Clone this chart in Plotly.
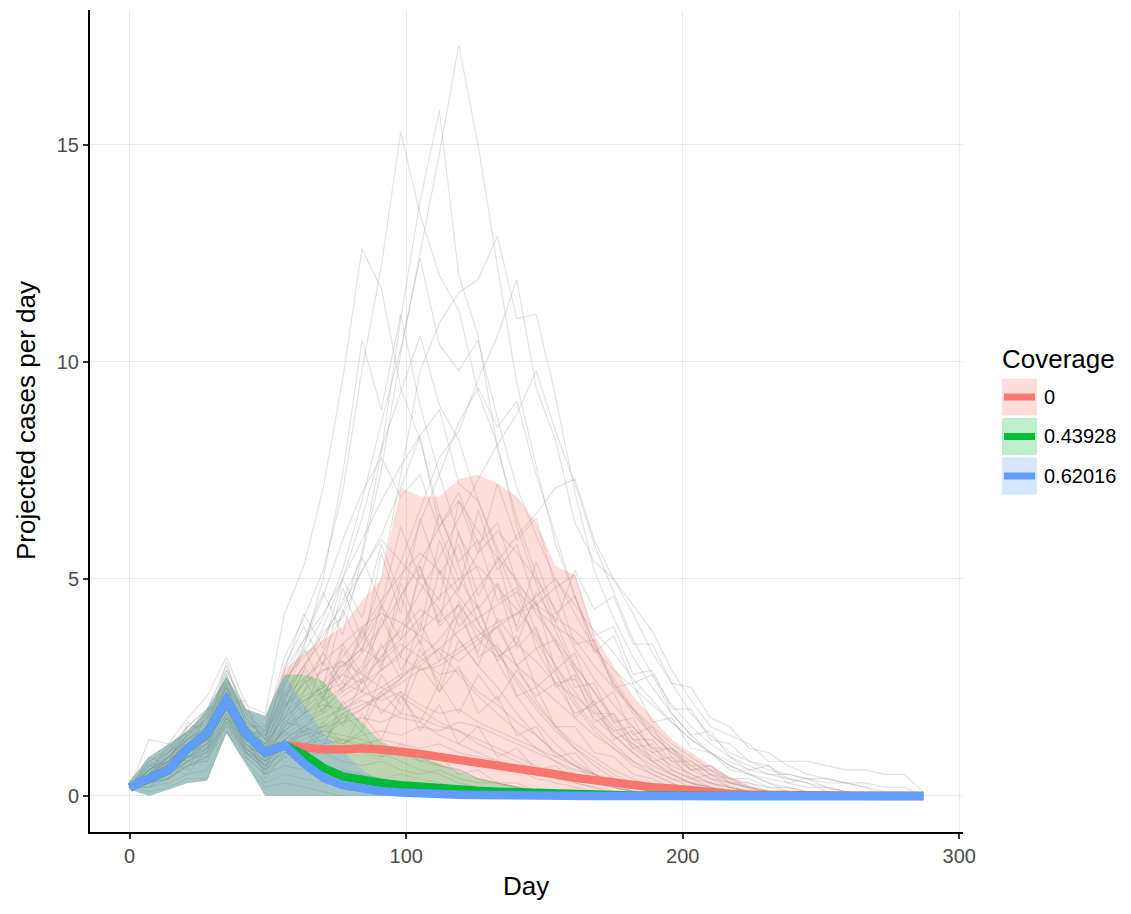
import plotly.graph_objects as go

# ---------------- data ----------------
DAYS = [0, 7, 14, 21, 28, 35, 42, 49, 56, 63, 70, 77, 84, 91, 98, 105, 112, 119, 126, 133,
        140, 147, 154, 161, 168, 175, 182, 189, 196, 203, 210, 217, 224, 231, 238, 245,
        252, 259, 266, 273, 280, 287]

COVERAGE = ["0", "0.43928", "0.62016"]

# median projected cases per day for each coverage
MED_0 = [0.2, 0.4, 0.6, 1.1, 1.45, 2.2, 1.45, 1.0, 1.17,
         1.12, 1.07, 1.07, 1.1, 1.07, 1.03, 0.97, 0.9, 0.84, 0.78, 0.72, 0.65, 0.57, 0.5,
         0.42, 0.36, 0.3, 0.25, 0.2, 0.17, 0.12, 0.08, 0.05, 0.03, 0.02, 0.01,
         0, 0, 0, 0, 0, 0, 0]
MED_1 = [0.2, 0.4, 0.6, 1.1, 1.45, 2.2, 1.45, 1.0, 1.17,
         0.95, 0.65, 0.45, 0.36, 0.3, 0.25, 0.21, 0.17, 0.14, 0.12, 0.1, 0.08, 0.06, 0.05,
         0.04, 0.03, 0.02, 0.01,
         0, 0, 0, 0, 0, 0, 0, 0, 0, 0, 0, 0, 0, 0, 0]
MED_2 = [0.2, 0.4, 0.6, 1.1, 1.45, 2.2, 1.45, 1.0, 1.17,
         0.75, 0.42, 0.25, 0.16, 0.11, 0.08, 0.05, 0.04, 0.03, 0.02, 0.01,
         0, 0, 0, 0, 0, 0, 0, 0, 0, 0, 0, 0, 0, 0, 0, 0, 0, 0, 0, 0, 0, 0]

# ribbon bounds
RIB_LOWER = [0.15, 0.0, 0.15, 0.3, 0.35, 1.45, 0.75, 0.0, 0.0,
             0, 0, 0, 0, 0, 0, 0, 0, 0, 0, 0, 0, 0, 0, 0, 0, 0, 0, 0, 0, 0, 0, 0, 0,
             0, 0, 0, 0, 0, 0, 0, 0, 0]
UPPER_0 = [0.35, 0.9, 1.2, 1.5, 2.0, 2.75, 2.0, 1.85, 2.9,
           3.3, 3.6, 3.9, 4.5, 5.0, 7.1, 6.9, 6.9, 7.3, 7.4, 7.2, 6.9, 6.3, 5.3, 5.1, 3.7,
           3.0, 2.3, 1.8, 1.3, 1.0, 0.7, 0.45, 0.25, 0.1, 0.05, 0.02,
           0, 0, 0, 0, 0, 0]
UPPER_1 = [0.35, 0.9, 1.2, 1.5, 2.0, 2.75, 2.0, 1.85, 2.8,
           2.8, 2.65, 2.1, 1.7, 1.25, 1.05, 0.9, 0.75, 0.55, 0.4, 0.3, 0.22, 0.15, 0.1,
           0.07, 0.05, 0.03, 0.02,
           0, 0, 0, 0, 0, 0, 0, 0, 0, 0, 0, 0, 0, 0, 0]
UPPER_2 = [0.35, 0.9, 1.2, 1.5, 2.0, 2.75, 2.0, 1.85, 2.8,
           2.1, 1.45, 1.05, 0.6, 0.35, 0.22, 0.15, 0.1, 0.07, 0.05, 0.03, 0.02, 0.01,
           0, 0, 0, 0, 0, 0, 0, 0, 0, 0, 0, 0, 0, 0, 0, 0, 0, 0, 0, 0]

# individual simulated trajectories (weekly values from day 0)
H1 = [0.2, 0.6, 0.9, 1.4, 1.8, 2.6, 1.7, 1.5, 2.4, 3.0, 3.6, 4.5, 5.5, 7.5, 10.2, 12.5, 14.8, 17.3, 15.0, 12.2, 9.5, 7.6, 5.8, 4.6, 3.5, 2.6, 1.9, 1.4, 1.0, 0.6, 0.4, 0.2, 0.1, 0]
H2 = [0.2, 0.4, 1.0, 1.6, 2.0, 2.9, 2.0, 1.6, 3.2, 4.1, 5.2, 7.0, 9.8, 12.2, 15.3, 13.4, 12.0, 11.2, 9.3, 8.1, 6.2, 4.9, 3.8, 2.9, 2.0, 1.4, 1.0, 0.6, 0.4, 0.2, 0.1, 0]
H3 = [0.2, 0.7, 0.6, 1.3, 1.5, 2.3, 1.4, 1.1, 2.0, 2.6, 3.3, 4.2, 5.6, 7.9, 11.0, 13.7, 15.8, 12.0, 10.6, 8.0, 6.4, 5.1, 4.0, 3.0, 2.4, 1.7, 1.2, 0.8, 0.5, 0.3, 0.2, 0.1, 0]
H4 = [0.2, 1.3, 1.2, 1.8, 2.3, 3.2, 2.1, 1.9, 4.2, 5.3, 7.1, 9.6, 12.6, 11.7, 9.4, 8.2, 6.5, 5.3, 4.0, 3.1, 2.3, 1.7, 1.2, 0.8, 0.5, 0.3, 0.2, 0.1, 0]
H5 = [0.2, 0.5, 0.7, 1.1, 1.4, 2.2, 1.3, 1.0, 1.6, 2.0, 2.4, 2.9, 3.6, 5.0, 7.4, 9.8, 10.9, 11.6, 11.9, 12.9, 11.0, 11.1, 9.2, 7.0, 5.2, 4.1, 3.2, 2.5, 1.9, 1.4, 1.0, 0.7, 0.5, 0.3, 0.2, 0.1, 0]
H6 = [0.2, 0.3, 0.6, 1.0, 1.3, 2.0, 1.2, 0.9, 2.2, 3.4, 5.0, 7.4, 10.5, 8.9, 11.1, 9.0, 7.4, 6.0, 5.2, 4.0, 3.0, 2.2, 1.6, 1.1, 0.8, 0.5, 0.3, 0.1, 0]
H7 = [0.2, 0.6, 1.1, 1.5, 1.9, 2.7, 1.8, 1.3, 2.6, 3.3, 4.1, 5.2, 6.8, 8.6, 10.3, 12.4, 10.4, 9.8, 10.5, 8.7, 7.1, 6.0, 5.0, 4.2, 3.4, 2.6, 2.0, 1.4, 1.0, 0.7, 0.4, 0.3, 0.2, 0.1, 0]
H8 = [0.2, 0.4, 0.8, 1.2, 1.5, 2.4, 1.6, 1.2, 1.8, 2.2, 2.5, 3.0, 3.4, 4.3, 5.4, 6.6, 7.8, 8.4, 9.6, 10.6, 11.9, 9.4, 8.2, 6.3, 5.4, 5.0, 4.4, 3.8, 2.9, 2.2, 1.6, 1.4, 1.2, 0.8, 0.8, 0.8, 0.7, 0.6, 0.6, 0.5, 0.5, 0.1]
H9 = [0.2, 0.5, 0.8, 1.3, 1.6, 2.5, 1.5, 1.2, 2.3, 3.0, 3.9, 5.0, 6.4, 8.0, 9.3, 10.6, 9.0, 8.2, 6.8, 5.6, 4.5, 3.6, 2.8, 2.1, 1.5, 1.1, 0.7, 0.5, 0.3, 0.1, 0]
M1 = [0.2, 0.3, 0.5, 0.8, 1.1, 1.9, 1.1, 0.7, 1.3, 1.6, 2.0, 2.5, 3.0, 3.9, 5.0, 6.3, 7.4, 8.6, 9.4, 8.5, 9.1, 7.4, 6.0, 4.6, 3.5, 2.7, 2.0, 1.5, 1.1, 0.8, 0.5, 0.3, 0.2, 0.1, 0]
M2 = [0.2, 0.8, 1.0, 1.5, 1.7, 2.5, 1.5, 1.4, 2.9, 3.6, 4.2, 5.0, 5.9, 6.8, 7.6, 8.3, 8.9, 7.2, 6.8, 5.7, 4.9, 3.8, 3.0, 2.2, 1.6, 1.2, 0.8, 0.5, 0.3, 0.1, 0]
M3 = [0.2, 0.5, 0.9, 1.3, 1.7, 2.6, 1.6, 1.3, 2.5, 3.5, 4.6, 5.9, 7.0, 7.8, 6.9, 7.4, 6.1, 5.0, 4.3, 3.3, 2.6, 2.0, 1.5, 1.1, 0.7, 0.4, 0.2, 0.1, 0]
M4 = [0.2, 0.4, 0.6, 0.9, 1.2, 2.1, 1.2, 0.9, 1.4, 1.7, 1.9, 2.3, 2.6, 3.2, 3.9, 4.7, 5.5, 6.4, 7.3, 8.1, 8.8, 9.8, 8.4, 7.2, 5.8, 4.7, 3.6, 2.8, 2.1, 1.6, 1.2, 0.9, 0.7, 0.5, 0.4, 0.3, 0.2, 0.1, 0]
M5 = [0.2, 0.6, 0.8, 1.2, 1.4, 2.2, 1.4, 1.1, 2.0, 2.9, 3.8, 4.1, 5.2, 6.0, 7.1, 8.3, 6.2, 7.0, 5.8, 6.3, 4.9, 4.4, 3.5, 2.9, 2.1, 1.6, 1.1, 0.8, 0.5, 0.3, 0.1, 0]
M6 = [0.2, 0.3, 0.4, 0.7, 0.9, 1.7, 1.0, 0.6, 1.1, 1.3, 1.5, 1.8, 2.0, 2.3, 2.7, 3.2, 3.6, 4.2, 4.8, 5.4, 6.0, 6.5, 7.1, 7.3, 5.9, 5.0, 4.2, 3.3, 2.6, 1.9, 1.4, 1.0, 0.8, 0.6, 0.5, 0.4, 0.3, 0.3, 0.2, 0.1, 0]
D1 = [0.2, 0.4, 0.7, 1.1, 1.5, 2.3, 1.4, 1.0, 1.7, 2.1, 2.6, 3.2, 3.8, 4.5, 5.1, 5.6, 5.2, 4.6, 4.0, 3.3, 2.7, 2.1, 1.6, 1.2, 0.9, 0.6, 0.4, 0.2, 0.1, 0]
D2 = [0.2, 0.5, 0.6, 1.0, 1.3, 2.1, 1.3, 1.0, 1.5, 1.8, 2.0, 2.4, 2.7, 3.2, 3.6, 4.1, 4.6, 5.0, 5.3, 4.8, 4.3, 3.7, 3.0, 2.4, 1.8, 1.4, 1.0, 0.7, 0.5, 0.3, 0.2, 0.1, 0]
D3 = [0.2, 0.7, 1.0, 1.4, 1.9, 2.8, 1.7, 1.4, 2.3, 2.7, 3.1, 3.5, 3.9, 4.2, 4.0, 3.7, 3.3, 2.8, 2.3, 1.9, 1.5, 1.1, 0.8, 0.5, 0.3, 0.2, 0.1, 0]
D4 = [0.2, 0.2, 0.4, 0.7, 0.8, 1.6, 0.9, 0.5, 0.9, 1.2, 1.4, 1.7, 2.0, 2.4, 2.7, 3.1, 3.4, 3.8, 4.1, 4.4, 4.7, 4.3, 3.9, 3.6, 3.0, 2.5, 2.0, 1.6, 1.2, 0.9, 0.6, 0.4, 0.3, 0.2, 0.1, 0]
D5 = [0.2, 0.6, 0.9, 1.3, 1.6, 2.5, 1.6, 1.2, 2.1, 2.4, 2.9, 3.0, 3.4, 3.1, 3.5, 3.2, 2.8, 2.9, 2.4, 2.1, 1.7, 1.4, 1.0, 0.7, 0.5, 0.3, 0.1, 0]
D6 = [0.2, 0.4, 0.5, 0.9, 1.0, 1.8, 1.0, 0.8, 1.2, 1.5, 1.7, 2.1, 2.4, 2.9, 3.3, 3.8, 4.2, 4.8, 5.6, 6.1, 5.6, 5.0, 4.3, 3.4, 2.7, 2.1, 1.6, 1.1, 0.8, 0.5, 0.3, 0.1, 0]
D7 = [0.2, 0.5, 0.8, 1.2, 1.4, 2.3, 1.5, 1.1, 1.9, 2.3, 2.5, 2.8, 2.6, 2.9, 3.2, 2.9, 3.0, 3.3, 3.6, 3.2, 3.5, 3.1, 2.6, 2.3, 1.9, 1.5, 1.2, 0.9, 0.6, 0.4, 0.3, 0.2, 0.1, 0]
D8 = [0.2, 0.3, 0.6, 1.0, 1.2, 2.0, 1.2, 0.8, 1.3, 1.6, 1.8, 2.0, 2.3, 2.5, 2.8, 3.0, 3.4, 3.1, 3.5, 3.9, 4.2, 4.6, 5.0, 4.4, 3.8, 3.3, 2.7, 2.2, 1.7, 1.3, 1.0, 0.7, 0.5, 0.4, 0.3, 0.2, 0.2, 0.1, 0]
D9 = [0.2, 0.8, 1.1, 1.6, 2.0, 3.0, 1.9, 1.5, 2.7, 3.2, 3.7, 4.4, 5.2, 5.9, 5.4, 4.9, 4.3, 3.6, 3.0, 2.5, 1.9, 1.4, 1.0, 0.7, 0.4, 0.2, 0.1, 0]
D10 = [0.2, 0.4, 0.7, 1.0, 1.3, 2.2, 1.3, 0.9, 1.6, 1.9, 2.2, 2.5, 2.9, 3.4, 3.8, 4.3, 4.0, 4.4, 3.8, 3.4, 3.0, 2.6, 2.2, 1.8, 1.4, 1.1, 0.8, 0.6, 0.4, 0.3, 0.2, 0.1, 0]
D11 = [0.2, 0.5, 0.7, 1.1, 1.3, 2.1, 1.4, 1.0, 1.5, 1.9, 2.3, 2.8, 3.3, 3.9, 4.6, 5.4, 6.2, 6.8, 6.1, 5.5, 5.0, 4.2, 3.6, 3.0, 2.4, 1.8, 1.3, 1.0, 0.7, 0.5, 0.3, 0.2, 0.1, 0]
D12 = [0.2, 0.3, 0.5, 0.8, 1.0, 1.8, 1.1, 0.7, 1.2, 1.4, 1.6, 1.9, 2.1, 2.3, 2.6, 2.9, 3.1, 3.4, 3.7, 4.0, 4.2, 4.4, 4.1, 3.8, 3.4, 2.9, 2.5, 2.1, 1.7, 1.3, 1.0, 0.8, 0.6, 0.5, 0.5, 0.4, 0.4, 0.3, 0.3, 0.2, 0.2, 0]
L1 = [0.2, 0.4, 0.6, 1.0, 1.2, 2.0, 1.1, 0.8, 1.2, 1.1, 1.0, 1.1, 1.0, 0.9, 1.0, 0.8, 0.7, 0.6, 0.4, 0.3, 0.2, 0.1, 0]
L2 = [0.2, 0.3, 0.5, 0.9, 1.1, 1.9, 1.0, 0.6, 0.9, 0.8, 0.7, 0.5, 0.4, 0.3, 0.2, 0.1, 0]
L3 = [0.2, 0.5, 0.7, 1.1, 1.4, 2.2, 1.3, 0.9, 1.4, 1.5, 1.6, 1.7, 1.8, 1.7, 1.9, 1.8, 1.6, 1.5, 1.3, 1.1, 0.9, 0.7, 0.5, 0.4, 0.3, 0.2, 0.1, 0]
L4 = [0.2, 0.2, 0.3, 0.5, 0.6, 1.5, 0.8, 0.3, 0.5, 0.4, 0.3, 0.2, 0.1, 0]
L5 = [0.2, 0.6, 0.8, 1.2, 1.5, 2.4, 1.5, 1.1, 1.7, 1.6, 1.4, 1.3, 1.1, 1.0, 0.8, 0.6, 0.5, 0.3, 0.2, 0.1, 0]
L6 = [0.2, 0.4, 0.6, 0.9, 1.2, 2.0, 1.2, 0.8, 1.1, 1.2, 1.3, 1.2, 1.4, 1.5, 1.4, 1.6, 1.5, 1.7, 1.6, 1.4, 1.2, 1.0, 0.8, 0.6, 0.5, 0.3, 0.2, 0.1, 0]
L7 = [0.2, 0.3, 0.4, 0.7, 0.9, 1.7, 0.9, 0.5, 0.7, 0.6, 0.5, 0.6, 0.5, 0.4, 0.5, 0.4, 0.3, 0.2, 0.1, 0]
L8 = [0.2, 0.5, 0.8, 1.2, 1.5, 2.3, 1.4, 1.1, 1.5, 1.9, 2.1, 2.0, 2.2, 2.0, 1.8, 1.7, 1.4, 1.2, 1.0, 0.8, 0.6, 0.4, 0.3, 0.2, 0.1, 0]
L9 = [0.2, 0.4, 0.5, 0.8, 1.0, 1.8, 1.0, 0.7, 1.0, 0.9, 1.0, 0.8, 0.7, 0.8, 0.6, 0.5, 0.6, 0.4, 0.3, 0.3, 0.2, 0.1, 0]
L10 = [0.2, 0.6, 0.9, 1.3, 1.6, 2.5, 1.5, 1.2, 1.8, 2.2, 2.4, 2.6, 2.4, 2.2, 2.4, 2.1, 1.9, 2.0, 1.7, 1.5, 1.3, 1.1, 0.9, 0.7, 0.5, 0.4, 0.3, 0.2, 0.1, 0]
L11 = [0.2, 0.3, 0.6, 0.9, 1.1, 1.9, 1.1, 0.7, 1.0, 1.0, 1.2, 1.3, 1.2, 1.3, 1.2, 1.1, 1.2, 1.0, 0.9, 0.8, 0.7, 0.6, 0.5, 0.4, 0.3, 0.2, 0.1, 0]
L12 = [0.2, 0.1, 0.2, 0.4, 0.4, 1.5, 0.7, 0.2, 0.3, 0.2, 0.1, 0]
L13 = [0.2, 0.4, 0.7, 1.0, 1.3, 2.1, 1.3, 0.9, 1.3, 1.4, 1.5, 1.4, 1.3, 1.1, 1.0, 0.9, 0.7, 0.6, 0.4, 0.3, 0.2, 0.1, 0]
L14 = [0.2, 0.5, 0.9, 1.4, 1.8, 2.7, 1.8, 1.3, 2.1, 2.6, 2.9, 3.1, 2.8, 2.5, 2.3, 2.0, 1.7, 1.5, 1.2, 1.0, 0.8, 0.6, 0.4, 0.3, 0.2, 0.1, 0]
J1 = [0.2, 0.7, 0.5, 1.4, 1.2, 2.6, 1.3, 1.4, 2.4, 1.9, 3.1, 2.4, 3.8, 2.9, 4.6, 3.5, 5.2, 3.9, 4.4, 3.1, 3.7, 2.5, 2.9, 1.8, 2.2, 1.3, 1.5, 0.8, 0.9, 0.4, 0.5, 0.2, 0.1, 0]
J2 = [0.2, 0.3, 0.8, 0.6, 1.5, 1.8, 1.6, 0.6, 1.8, 2.7, 1.9, 3.4, 2.6, 4.1, 3.2, 5.3, 4.0, 6.1, 4.6, 5.5, 3.8, 4.5, 2.9, 3.3, 2.1, 2.4, 1.4, 1.6, 0.9, 0.6, 0.7, 0.3, 0.2, 0]
J3 = [0.2, 0.5, 1.2, 0.9, 2.0, 2.1, 2.2, 1.0, 2.6, 3.4, 2.5, 4.3, 3.3, 5.6, 4.2, 6.4, 5.1, 5.8, 4.3, 4.9, 3.4, 3.9, 2.5, 2.8, 1.7, 1.9, 1.1, 1.2, 0.6, 0.4, 0.2, 0]
J4 = [0.2, 0.9, 0.7, 1.7, 1.4, 3.1, 1.6, 1.6, 3.0, 3.9, 3.0, 4.8, 3.6, 4.4, 2.9, 3.6, 2.4, 3.0, 1.9, 2.3, 1.4, 1.6, 0.9, 1.0, 0.5, 0.3, 0.1, 0]
J5 = [0.2, 0.2, 0.6, 0.5, 1.1, 1.6, 1.5, 0.4, 1.0, 1.5, 1.1, 2.2, 1.6, 2.8, 2.1, 3.4, 2.6, 4.2, 3.3, 4.9, 3.9, 5.4, 4.2, 4.6, 3.3, 3.7, 2.6, 2.8, 1.9, 1.4, 1.5, 0.9, 0.6, 0.7, 0.3, 0.4, 0.2, 0.1, 0]
J6 = [0.2, 0.6, 0.4, 1.2, 1.0, 2.4, 1.0, 1.2, 2.2, 1.4, 2.3, 1.6, 2.7, 1.9, 2.4, 1.5, 2.1, 1.2, 1.6, 0.9, 1.1, 0.6, 0.7, 0.3, 0.2, 0]
J7 = [0.2, 0.4, 0.9, 0.8, 1.6, 2.0, 1.7, 0.8, 1.6, 2.4, 3.3, 2.6, 3.9, 3.0, 4.9, 3.8, 5.9, 4.7, 6.6, 5.2, 5.8, 4.4, 4.8, 3.5, 3.6, 2.5, 2.6, 1.7, 1.8, 1.1, 1.0, 0.6, 0.5, 0.3, 0.1, 0]
J8 = [0.2, 0.8, 0.6, 1.5, 1.3, 2.8, 1.4, 1.5, 2.7, 3.6, 4.7, 3.7, 5.5, 4.4, 6.2, 5.0, 6.5, 5.4, 5.9, 4.5, 4.8, 3.4, 3.6, 2.5, 2.6, 1.7, 1.8, 1.0, 1.1, 0.6, 0.6, 0.3, 0.3, 0.1, 0]
J9 = [0.2, 0.3, 0.5, 0.9, 0.9, 1.8, 1.3, 0.5, 1.3, 0.8, 1.6, 1.1, 1.9, 1.3, 2.3, 1.7, 2.6, 1.9, 2.8, 2.2, 2.9, 2.3, 2.6, 1.9, 2.1, 1.5, 1.6, 1.1, 1.1, 0.7, 0.7, 0.4, 0.4, 0.2, 0.2, 0.1, 0]
J10 = [0.2, 0.5, 0.7, 1.2, 1.1, 2.3, 1.5, 0.9, 2.0, 2.9, 2.2, 3.5, 2.8, 4.4, 3.6, 5.1, 4.5, 6.8, 5.6, 7.2, 5.9, 6.4, 4.8, 5.1, 3.7, 3.9, 2.8, 2.9, 2.0, 2.0, 1.3, 1.2, 0.8, 0.7, 0.4, 0.3, 0.1, 0]
J11 = [0.2, 0.6, 1.0, 1.3, 1.8, 2.5, 1.9, 1.3, 2.9, 4.2, 3.4, 5.0, 4.1, 5.8, 4.6, 5.3, 3.9, 4.4, 3.2, 3.5, 2.3, 2.5, 1.6, 1.6, 1.0, 0.9, 0.5, 0.4, 0.2, 0]
J12 = [0.2, 0.4, 0.6, 1.0, 1.3, 2.1, 1.1, 1.0, 1.5, 1.1, 1.7, 1.2, 1.5, 0.9, 1.2, 0.8, 0.9, 0.5, 0.6, 0.3, 0.3, 0.1, 0]
J13 = [0.2, 0.7, 0.8, 1.6, 1.6, 2.9, 2.0, 1.4, 2.2, 3.0, 2.3, 3.1, 2.4, 3.5, 2.7, 4.0, 3.1, 4.5, 3.6, 3.9, 3.0, 3.4, 2.6, 2.7, 1.9, 1.9, 1.3, 1.3, 0.8, 0.8, 0.5, 0.4, 0.2, 0.1, 0]
J14 = [0.2, 0.3, 0.4, 0.8, 0.8, 1.7, 1.0, 0.6, 1.1, 1.6, 1.2, 1.9, 1.5, 2.4, 1.9, 3.0, 2.4, 3.6, 3.0, 4.1, 3.5, 4.7, 4.0, 5.2, 4.3, 4.6, 3.5, 3.5, 2.6, 2.5, 1.8, 1.6, 1.1, 1.0, 0.7, 0.5, 0.4, 0.3, 0.2, 0]

TRAJECTORIES = [H1, H2, H3, H4, H5, H6, H7, H8, H9, M1, M2, M3, M4, M5, M6,
                D1, D2, D3, D4, D5, D6, D7, D8, D9, D10, D11, D12,
                L1, L2, L3, L4, L5, L6, L7, L8, L9, L10, L11, L12, L13, L14,
                J1, J2, J3, J4, J5, J6, J7, J8, J9, J10, J11, J12, J13, J14]

X_TICKS = [0, 100, 200, 300]
Y_TICKS = [0, 5, 10, 15]

# ---------------- style ----------------
W, H = 1131, 914
ML, MR, MT, MB = 90, 168, 10, 82
PW, PH = W - ML - MR, H - MT - MB
FONT = "Liberation Sans, Arial, Helvetica, sans-serif"
COLORS = ["#F8766D", "#00BA38", "#619CFF"]
FILLS = ["rgba(248,118,109,0.25)", "rgba(0,186,56,0.25)", "rgba(97,156,255,0.25)"]


def pxx(px):
    return (px - ML) / PW


def pxy(py):
    return (H - MB - py) / PH


fig = go.Figure()

for traj in TRAJECTORIES:
    fig.add_trace(go.Scatter(x=DAYS[:len(traj)], y=traj, mode="lines",
                             line=dict(color="rgba(150,150,150,0.27)", width=1.2),
                             hoverinfo="skip", showlegend=False))

for upper, fillc in zip([UPPER_0, UPPER_1, UPPER_2], FILLS):
    fig.add_trace(go.Scatter(x=DAYS + DAYS[::-1], y=upper + RIB_LOWER[::-1],
                             mode="lines", fill="toself", fillcolor=fillc,
                             line=dict(width=0), hoverinfo="skip", showlegend=False))

for med, col, name in zip([MED_0, MED_1, MED_2], COLORS, COVERAGE):
    fig.add_trace(go.Scatter(x=DAYS, y=med, mode="lines", name=name,
                             line=dict(color=col, width=8.5), showlegend=False))

axis_common = dict(showgrid=True, gridcolor="#EBEBEB", gridwidth=1.3, zeroline=False,
                   showline=True, linecolor="#000000", linewidth=2,
                   ticks="outside", ticklen=5, tickwidth=1.5, tickcolor="#333333",
                   tickfont=dict(family=FONT, size=20, color="#4D4D4D"))

fig.update_layout(
    width=W, height=H,
    margin=dict(l=ML, r=MR, t=MT, b=MB, autoexpand=False),
    paper_bgcolor="white", plot_bgcolor="white",
    font=dict(family=FONT),
    xaxis=dict(range=[-14.35, 301.35], tickvals=X_TICKS, **axis_common),
    yaxis=dict(range=[-0.83, 18.11], tickvals=Y_TICKS, **axis_common),
    showlegend=False,
)

annotations = [
    dict(text="Day", x=pxx(526), y=pxy(886), xref="paper", yref="paper",
         xanchor="center", yanchor="middle", showarrow=False,
         font=dict(family=FONT, size=26, color="black")),
    dict(text="Projected cases per day", x=pxx(26), y=pxy(421), xref="paper", yref="paper",
         xanchor="center", yanchor="middle", textangle=-90, showarrow=False,
         font=dict(family=FONT, size=26, color="black")),
    dict(text="Coverage", x=pxx(1000), y=pxy(359), xref="paper", yref="paper",
         xanchor="left", yanchor="middle", showarrow=False,
         font=dict(family=FONT, size=26, color="black")),
]
shapes = []
ROW_Y = [397, 436.5, 476]
for name, col, fillc, ry in zip(COVERAGE, COLORS, FILLS, ROW_Y):
    shapes.append(dict(type="rect", xref="paper", yref="paper",
                       x0=pxx(1002), x1=pxx(1037), y0=pxy(ry - 18.5), y1=pxy(ry + 18.5),
                       fillcolor=fillc, line=dict(width=0)))
    shapes.append(dict(type="line", xref="paper", yref="paper",
                       x0=pxx(1004), x1=pxx(1035), y0=pxy(ry), y1=pxy(ry),
                       line=dict(color=col, width=7)))
    annotations.append(dict(text=name, x=pxx(1042), y=pxy(ry), xref="paper", yref="paper",
                            xanchor="left", yanchor="middle", showarrow=False,
                            font=dict(family=FONT, size=20, color="black")))

fig.update_layout(annotations=annotations, shapes=shapes)

fig.write_html("out.html")
